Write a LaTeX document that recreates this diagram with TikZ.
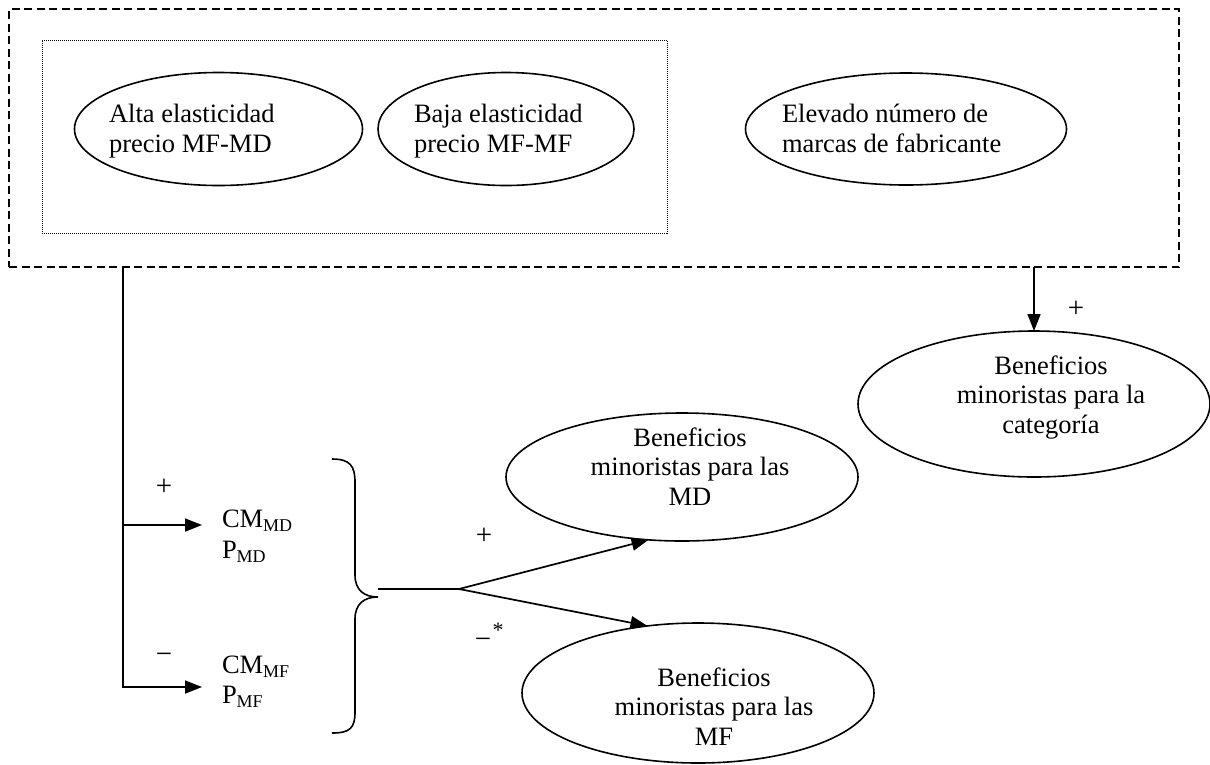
\documentclass[tikz,border=0pt]{standalone}
\usepackage{fontspec}
\setmainfont{Liberation Serif}
\usetikzlibrary{shapes.geometric,arrows.meta}
\newcommand{\lowsub}[1]{\raisebox{-4pt}{\fontsize{18}{18}\selectfont #1}}
\begin{document}
\begin{tikzpicture}[x=1pt,y=-1pt,
  every node/.style={inner sep=0pt, outer sep=0pt},
  oval/.style={draw, line width=1.6pt, ellipse},
  txt/.style={font=\fontsize{26.5}{29.5}\selectfont},
  sign/.style={font=\fontsize{29}{29}\selectfont},
  link/.style={line width=1.7pt},
  arr/.style={link, -{Triangle[length=17pt,width=13pt]}},
]
\useasboundingbox (0,0) rectangle (1210,764);

% outer dashed frame and inner dotted frame
\node[draw, line width=1.3pt, dash pattern=on 8pt off 4.5pt,
      minimum width=1170pt, minimum height=258pt] (outer) at (594,138) {};
\node[draw, line width=1pt, dash pattern=on 1pt off 1pt,
      minimum width=625pt, minimum height=193pt] (inner) at (354.5,136.5) {};

% top ellipses (multi-line text is placed by the baseline of its last line)
\node[oval, minimum width=288pt, minimum height=113pt] (alta) at (218.5,129) {};
\node[oval, minimum width=256pt, minimum height=113pt] (baja) at (506,129) {};
\node[oval, minimum width=321pt, minimum height=112pt] (elev) at (906,129) {};
\node[txt, anchor=base west, align=left] (altaT) at (109,152) {Alta elasticidad\\precio MF-MD};
\node[txt, anchor=base west, align=left] (bajaT) at (414,152) {Baja elasticidad\\precio MF-MF};
\node[txt, anchor=base west, align=left] (elevT) at (782,152) {Elevado número de\\marcas de fabricante};

% outcome ellipses
\node[oval, minimum width=352pt, minimum height=128pt] (md) at (682,477) {};
\node[oval, minimum width=352pt, minimum height=140pt] (mf) at (698,693) {};
\node[oval, minimum width=352pt, minimum height=146pt] (cat) at (1034,404) {};
\node[txt, anchor=base, align=center] (mdT) at (690,505) {Beneficios\\minoristas para las\\MD};
\node[txt, anchor=base, align=center] (mfT) at (714,745) {Beneficios\\minoristas para las\\MF};
\node[txt, anchor=base, align=center] (catT) at (1051,433) {Beneficios\\minoristas para la\\categoría};

% margin and price variables
\node[txt, anchor=base west, align=left, font=\fontsize{26.5}{31}\selectfont] (cmMD) at (222,558)
  {CM\lowsub{MD}\\P\lowsub{MD}};
\node[txt, anchor=base west, align=left, font=\fontsize{26.5}{30}\selectfont] (cmMF) at (222,703)
  {CM\lowsub{MF}\\P\lowsub{MF}};

% connectors from the frame
\coordinate (drop) at (123,267);
\coordinate (tipMD) at (202,525);
\coordinate (tipMF) at (202,687);
\draw[arr] (drop) |- (tipMF);
\draw[arr] (drop |- tipMD) -- (tipMD);
\draw[arr] (outer.south -| cat.north) -- (cat.north);

% brace joining the variables
\draw[line width=1.6pt] (332,459) .. controls (350,459) and (355,466) .. (355,482)
  -- (355,575) .. controls (355,590) and (364,597) .. (378,597)
  .. controls (364,597) and (355,604) .. (355,619)
  -- (355,712) .. controls (355,728) and (350,733) .. (332,733);
\coordinate (brace) at (378,589);
\coordinate (fork) at (459,589);
\draw[link] (brace) -- (fork);
\draw[arr] (fork) -- (md.242);
\draw[arr] (fork) -- (mf.127);

% signs
\node[sign] (p1) at (164,487) {+};
\node[sign] (m1) at (164,658) {−};
\node[sign] (p2) at (484,536) {+};
\node[sign] (m2) at (483,643) {−};
\node[sign, font=\fontsize{22}{22}\selectfont] (star) at (498,630) {*};
\node[sign] (p3) at (1076,309) {+};
\end{tikzpicture}
\end{document}
